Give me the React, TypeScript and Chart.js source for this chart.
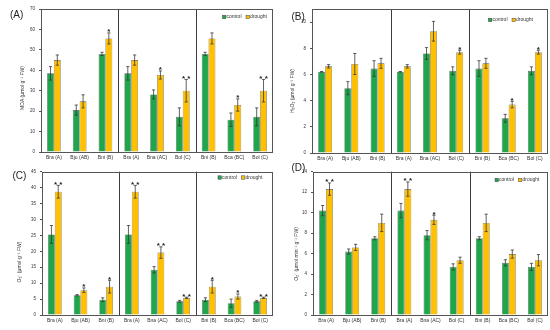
import React, { useEffect, useRef } from "react";
import { Chart, registerables } from "chart.js";

Chart.register(...registerables);

const categories = ["Bra (A)", "Bju (AB)", "Bni (B)", "Bra (A)", "Bna (AC)", "Bol (C)", "Bni (B)", "Bca (BC)", "Bol (C)"];
const seriesNames = ["control", "drought"];

// (A) MDA
const mdaControl = [38.5, 20.5, 48, 38.5, 28.2, 17.2, 48, 15.8, 17.2];
const mdaControlErr = [3.3, 2.5, 0.8, 3.3, 2.2, 4.4, 0.8, 3.3, 4.4];
const mdaDrought = [45, 24.8, 55.6, 45, 37.7, 30, 55.6, 23, 30];
const mdaDroughtErr = [2.5, 3.2, 2.7, 2.5, 2, 5.5, 2.7, 3, 5.5];
const mdaStars = ["", "", "*", "", "*", "**", "", "*", "**"];

// (B) H2O2
const h2o2Control = [6.2, 4.95, 6.45, 6.2, 7.6, 6.28, 6.45, 2.65, 6.28];
const h2o2ControlErr = [0.03, 0.5, 0.6, 0.03, 0.45, 0.3, 0.6, 0.3, 0.3];
const h2o2Drought = [6.62, 6.8, 6.85, 6.62, 9.3, 7.7, 6.85, 3.7, 7.7];
const h2o2DroughtErr = [0.13, 0.8, 0.38, 0.13, 0.75, 0.15, 0.38, 0.25, 0.15];
const h2o2Stars = ["", "", "", "", "", "*", "", "*", "*"];

// (C) O2- content
const o2Control = [25.3, 6.2, 4.8, 25.3, 14.2, 4.3, 4.8, 3.7, 4.3];
const o2ControlErr = [2.8, 0.2, 0.6, 2.8, 1, 0.3, 0.6, 1.3, 0.3];
const o2Drought = [38.7, 7.8, 8.9, 38.7, 19.6, 5.4, 8.9, 5.8, 5.4];
const o2DroughtErr = [2, 0.7, 2, 2, 1.8, 0.2, 2, 0.8, 0.2];
const o2Stars = ["**", "*", "*", "**", "**", "**", "*", "*", "**"];

// (D) O2- production rate
const rateControl = [10.2, 6.2, 7.5, 10.2, 7.8, 4.7, 7.5, 5.1, 4.7];
const rateControlErr = [0.5, 0.25, 0.15, 0.7, 0.45, 0.3, 0.15, 0.3, 0.35];
const rateDrought = [12.3, 6.6, 9.0, 12.3, 9.3, 5.35, 9.0, 5.95, 5.35];
const rateDroughtErr = [0.6, 0.3, 0.85, 0.7, 0.45, 0.3, 0.85, 0.4, 0.55];
const rateStars = ["**", "", "", "**", "*", "", "", "", ""];

const separatorsAt = [3, 6];

const FONT = "'Liberation Sans', Arial, Helvetica, sans-serif";
const GREEN = "#1fa64a";
const YELLOW = "#ffc000";
const EDGE = "#555555";

type Panel = {
  label: string;
  title: string;
  control: number[];
  controlErr: number[];
  drought: number[];
  droughtErr: number[];
  stars: string[];
  max: number;
  step: number;
  left: number;
  top: number;
  yWidth: number;
  padTop: number;
  xHeight: number;
  titleX: number;
  titleY: number;
  legendX: number;
  legendY: number;
  labelX: number;
  labelY: number;
};

const panels: Panel[] = [
  {
    label: "(A)", title: "MDA (μmol g⁻¹ FW)",
    control: mdaControl, controlErr: mdaControlErr, drought: mdaDrought, droughtErr: mdaDroughtErr, stars: mdaStars,
    max: 70, step: 10, left: 0, top: 0, yWidth: 41, padTop: 9, xHeight: 13,
    titleX: 23, titleY: 88, legendX: 222.5, legendY: 17, labelX: 10, labelY: 8.5,
  },
  {
    label: "(B)", title: "H₂O₂ (μmol g⁻¹ FW)",
    control: h2o2Control, controlErr: h2o2ControlErr, drought: h2o2Drought, droughtErr: h2o2DroughtErr, stars: h2o2Stars,
    max: 11, step: 2, left: 275, top: 0, yWidth: 37, padTop: 9, xHeight: 12,
    titleX: 18, titleY: 91, legendX: 213.5, legendY: 20, labelX: 291.5, labelY: 11,
  },
  {
    label: "(C)", title: "O₂⁻ (μmol·g⁻¹ FW)",
    control: o2Control, controlErr: o2ControlErr, drought: o2Drought, droughtErr: o2DroughtErr, stars: o2Stars,
    max: 45, step: 5, left: 0, top: 165, yWidth: 42, padTop: 5, xHeight: 15,
    titleX: 20, titleY: 97, legendX: 218, legendY: 12.5, labelX: 12.5, labelY: 170,
  },
  {
    label: "(D)", title: "O₂⁻ (μmol min⁻¹ g⁻¹ FW)",
    control: rateControl, controlErr: rateControlErr, drought: rateDrought, droughtErr: rateDroughtErr, stars: rateStars,
    max: 14, step: 2, left: 275, top: 165, yWidth: 38, padTop: 5, xHeight: 15,
    titleX: 22, titleY: 89, legendX: 220, legendY: 15, labelX: 291.5, labelY: 161.5,
  },
];

function makeDecor(p: Panel) {
  return {
    id: "decor",
    afterDatasetsDraw(chart: any) {
      const ctx = chart.ctx as CanvasRenderingContext2D;
      const ys = chart.scales.y;
      const xs = chart.scales.x;
      const area = chart.chartArea;
      ctx.save();
      // error bars
      const vals = [p.control, p.drought];
      const errs = [p.controlErr, p.droughtErr];
      for (let d = 0; d < 2; d++) {
        const meta = chart.getDatasetMeta(d);
        meta.data.forEach((bar: any, i: number) => {
          const v = vals[d][i];
          const e = errs[d][i];
          const yT = ys.getPixelForValue(v + e);
          const yB = ys.getPixelForValue(v - e);
          ctx.strokeStyle = "#3a3a3a";
          ctx.lineWidth = 0.8;
          ctx.beginPath();
          ctx.moveTo(bar.x, yT);
          ctx.lineTo(bar.x, yB);
          ctx.moveTo(bar.x - 1.6, yT);
          ctx.lineTo(bar.x + 1.6, yT);
          ctx.moveTo(bar.x - 1.6, yB);
          ctx.lineTo(bar.x + 1.6, yB);
          ctx.stroke();
        });
      }
      // significance stars above drought bars
      const dMeta = chart.getDatasetMeta(1);
      ctx.fillStyle = "#222222";
      ctx.font = "bold 8px " + FONT;
      ctx.textAlign = "center";
      ctx.textBaseline = "alphabetic";
      p.stars.forEach((s, i) => {
        if (!s) return;
        const bar = dMeta.data[i];
        const yT = ys.getPixelForValue(p.drought[i] + p.droughtErr[i]);
        const txt = s.split("").join(" ");
        ctx.fillText(txt, bar.x, yT + 1.5);
      });
      // separators
      ctx.strokeStyle = "#3c3c3c";
      ctx.lineWidth = 1;
      separatorsAt.forEach((idx) => {
        const x = Math.round((xs.getPixelForValue(idx - 1) + xs.getPixelForValue(idx)) / 2) + 0.5;
        ctx.beginPath();
        ctx.moveTo(x, area.top);
        ctx.lineTo(x, area.bottom);
        ctx.stroke();
      });
      // frame
      ctx.strokeStyle = EDGE;
      ctx.lineWidth = 1;
      ctx.strokeRect(Math.round(area.left) + 0.5, Math.round(area.top) + 0.5,
        Math.round(area.right - area.left) - 1, Math.round(area.bottom - area.top));
      ctx.restore();
    },
    afterDraw(chart: any) {
      const ctx = chart.ctx as CanvasRenderingContext2D;
      ctx.save();
      // axis title
      ctx.translate(p.titleX, p.titleY);
      ctx.rotate(-Math.PI / 2);
      ctx.fillStyle = "#333333";
      ctx.font = "5px " + FONT;
      ctx.textAlign = "center";
      ctx.textBaseline = "middle";
      ctx.fillText(p.title, 0, 0);
      ctx.restore();
      // legend
      ctx.save();
      ctx.font = "5px " + FONT;
      ctx.textBaseline = "middle";
      ctx.textAlign = "left";
      let x = p.legendX;
      const y = p.legendY;
      const colors = [GREEN, YELLOW];
      seriesNames.forEach((name, i) => {
        ctx.fillStyle = colors[i];
        ctx.fillRect(x, y - 1.7, 3.4, 3.4);
        ctx.strokeStyle = "#444";
        ctx.lineWidth = 0.5;
        ctx.strokeRect(x, y - 1.7, 3.4, 3.4);
        ctx.fillStyle = "#333333";
        ctx.fillText(name, x + 4, y);
        x += 4 + ctx.measureText(name).width + 4.5;
      });
      ctx.restore();
    },
  };
}

function PanelChart({ p }: { p: Panel }) {
  const ref = useRef<HTMLCanvasElement | null>(null);
  useEffect(() => {
    if (!ref.current) return;
    const chart = new Chart(ref.current, {
      type: "bar",
      data: {
        labels: categories,
        datasets: [
          {
            label: seriesNames[0],
            data: p.control,
            backgroundColor: GREEN,
            borderColor: EDGE,
            borderWidth: 0.6,
            categoryPercentage: 0.53,
            barPercentage: 1,
          },
          {
            label: seriesNames[1],
            data: p.drought,
            backgroundColor: YELLOW,
            borderColor: EDGE,
            borderWidth: 0.6,
            categoryPercentage: 0.53,
            barPercentage: 1,
          },
        ],
      },
      options: {
        responsive: false,
        animation: false,
        layout: { padding: { left: 0, right: 2, top: p.padTop, bottom: 0 } },
        plugins: {
          legend: { display: false },
          tooltip: { enabled: false },
          title: { display: false },
        },
        scales: {
          x: {
            grid: { display: false, drawTicks: false, tickLength: 0 },
            border: { display: false },
            ticks: {
              autoSkip: false,
              maxRotation: 0,
              minRotation: 0,
              padding: 2.5,
              color: "#333333",
              font: { family: FONT, size: 5 },
            },
            afterFit: (s: any) => { s.height = p.xHeight; },
          },
          y: {
            min: 0,
            max: p.max,
            grid: { display: true, drawOnChartArea: false, drawTicks: true, tickLength: 2, color: EDGE },
            border: { display: false },
            ticks: {
              stepSize: p.step,
              padding: 4,
              color: "#333333",
              font: { family: FONT, size: 4.5 },
            },
            afterBuildTicks: (s: any) => {
              s.ticks = s.ticks.filter((t: any) => Math.abs(t.value / p.step - Math.round(t.value / p.step)) < 1e-6);
            },
            afterFit: (s: any) => { s.width = p.yWidth; },
          },
        },
      },
      plugins: [makeDecor(p)],
    } as any);
    return () => chart.destroy();
  }, [p]);
  return (
    <div style={{ position: "absolute", left: p.left, top: p.top, width: 275, height: 165 }}>
      <canvas ref={ref} width={275} height={165} style={{ display: "block", width: 275, height: 165 }} />
    </div>
  );
}

export default function App() {
  return (
    <div style={{ position: "absolute", left: 0, top: 0, width: 550, height: 330, background: "#ffffff", overflow: "hidden" }}>
      {panels.map((p, i) => (
        <PanelChart key={i} p={p} />
      ))}
      {panels.map((p, i) => (
        <div
          key={"l" + i}
          style={{
            position: "absolute",
            left: p.labelX,
            top: p.labelY,
            fontFamily: FONT,
            fontSize: 10,
            lineHeight: "11px",
            color: "#222222",
            whiteSpace: "nowrap",
          }}
        >
          {p.label}
        </div>
      ))}
    </div>
  );
}
